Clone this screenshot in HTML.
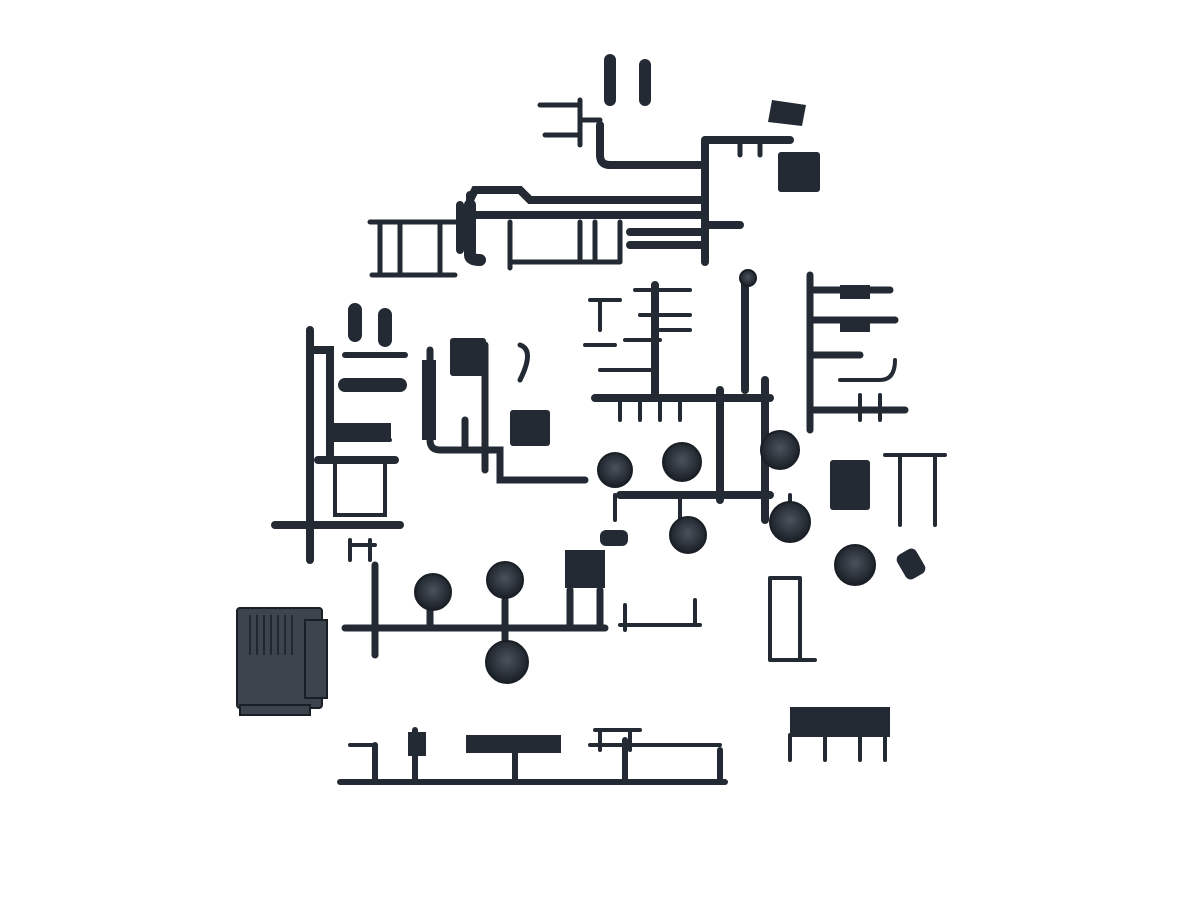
<!DOCTYPE html>
<html><head><meta charset="utf-8"><style>html,body{margin:0;padding:0;background:#fff;width:1200px;height:900px;overflow:hidden}</style></head>
<body>
<svg width="1200" height="900" viewBox="0 0 1200 900" xmlns="http://www.w3.org/2000/svg">
<defs>
<radialGradient id="w" cx="50%" cy="45%" r="55%"><stop offset="0" stop-color="#4a525c"/><stop offset="1" stop-color="#1a1f26"/></radialGradient>
</defs>
<rect width="1200" height="900" fill="#fff"/>
<g stroke="#232a33" stroke-linecap="round" fill="none">
<!-- top tree -->
<g stroke-width="8">
<path d="M470 215 H705 M470 200 L475 190 H520 L530 200 H705"/>
<path d="M460 205 V250 M470 195 V215"/>
<path d="M705 140 V262 M705 140 H790 M705 225 H740"/>
<path d="M600 125 V155 Q600 165 610 165 H700"/>
<path d="M630 245 H705 M630 232 H705"/>
</g>
<g stroke-width="5">
<path d="M370 222 H460 M372 275 H455 M380 222 V275 M440 222 V275 M400 222 V275"/>
<path d="M510 222 V268 M620 222 V262 M510 262 H620 M580 222 V262 M595 222 V262"/>
<path d="M540 105 H580 M545 135 H580 M580 100 V145 M580 120 H600"/>
<path d="M740 140 V155 M760 140 V155"/>
</g>
<g stroke-width="12"><path d="M610 60 V100 M645 65 V100"/><path d="M470 205 V255 Q470 260 480 260"/></g>
<!-- left tree -->
<g stroke-width="8"><path d="M310 330 V560 M275 525 H400 M310 350 H330 V460 M318 460 H395"/></g>
<g stroke-width="4"><path d="M335 460 V515 H385 V460 M330 440 H390 M350 560 V540 M370 560 V540 M350 545 H375"/></g>
<g stroke-width="14"><path d="M355 310 V335 M385 315 V340 M345 385 H375 M375 385 H400"/></g>
<path d="M345 355 H405" stroke-width="6"/>
<!-- mid-left -->
<g stroke-width="7"><path d="M430 350 V440 Q430 450 440 450 H500 V480 H585"/><path d="M485 345 V470 M465 420 V450"/></g>
<path d="M520 345 Q535 350 520 380" stroke-width="5"/>
<!-- center tree -->
<g stroke-width="8"><path d="M745 275 V390 M595 398 H770 M655 285 V398 M620 495 H770 M720 390 V500 M765 380 V520"/></g>
<g stroke-width="4"><path d="M590 300 H620 M600 300 V330 M585 345 H615 M635 290 H690 M640 315 H690 M625 340 H660 M600 370 H655 M660 330 H690 M620 398 V420 M640 398 V420 M660 398 V420 M680 398 V420"/>
<path d="M615 495 V520 M680 495 V520 M790 495 V510"/></g>
<!-- right tree -->
<g stroke-width="7"><path d="M810 275 V430 M810 290 H890 M810 320 H895 M810 355 H860 M810 410 H905"/></g>
<g stroke-width="4"><path d="M840 380 H880 Q895 380 895 360 M885 455 H945 M900 455 V525 M935 455 V525 M860 395 V420 M880 395 V420"/></g>
<!-- bottom middle tree -->
<g stroke-width="7"><path d="M345 628 H605 M375 565 V655 M430 610 V628 M505 600 V640 M570 590 V628 M600 590 V628"/></g>
<g stroke-width="4"><path d="M620 625 H700 M625 605 V630 M695 600 V625 M770 578 V660 M800 578 V660 M770 578 H800 M770 660 H815"/></g>
<!-- bottom tree -->
<g stroke-width="6"><path d="M340 782 H725 M375 745 V782 M415 730 V782 M515 750 V782 M625 740 V782 M720 750 V782"/></g>
<g stroke-width="4"><path d="M350 745 H375 M595 730 H640 M590 745 H720 M600 730 V750 M630 730 V750 M790 735 V760 M825 735 V760 M860 735 V760 M885 735 V760"/></g>
</g>
<g fill="#232a33">
<rect x="778" y="152" width="42" height="40" rx="3"/>
<polygon points="772,100 806,105 802,126 768,122"/>
<rect x="450" y="338" width="36" height="38" rx="3"/>
<rect x="510" y="410" width="40" height="36" rx="3"/>
<rect x="333" y="423" width="58" height="18"/>
<rect x="422" y="360" width="14" height="80"/>
<rect x="565" y="550" width="40" height="38"/>
<rect x="830" y="460" width="40" height="50" rx="3"/>
<rect x="840" y="285" width="30" height="14"/>
<rect x="840" y="318" width="30" height="14"/>
<rect x="466" y="735" width="95" height="18"/>
<rect x="408" y="732" width="18" height="24"/>
<rect x="790" y="707" width="100" height="30"/>
<rect x="600" y="530" width="28" height="16" rx="6"/>
<rect x="900" y="550" width="22" height="28" rx="6" transform="rotate(-30 911 564)"/>
</g>
<g fill="url(#w)" stroke="#1a1f26" stroke-width="2">
<circle cx="615" cy="470" r="17"/><circle cx="682" cy="462" r="19"/><circle cx="688" cy="535" r="18"/>
<circle cx="780" cy="450" r="19"/><circle cx="790" cy="522" r="20"/><circle cx="855" cy="565" r="20"/>
<circle cx="433" cy="592" r="18"/><circle cx="505" cy="580" r="18"/><circle cx="507" cy="662" r="21"/>
<circle cx="748" cy="278" r="8"/>
</g>
<g fill="#3c444e" stroke="#1a1f26" stroke-width="2">
<rect x="237" y="608" width="85" height="100" rx="3"/>
<rect x="305" y="620" width="22" height="78"/>
<rect x="240" y="705" width="70" height="10"/>
</g>
<g stroke="#22282f" stroke-width="2">
<path d="M250 615 V655 M257 615 V655 M264 615 V655 M271 615 V655 M278 615 V655 M285 615 V655 M292 615 V655"/>
</g>
</svg>
</body></html>
